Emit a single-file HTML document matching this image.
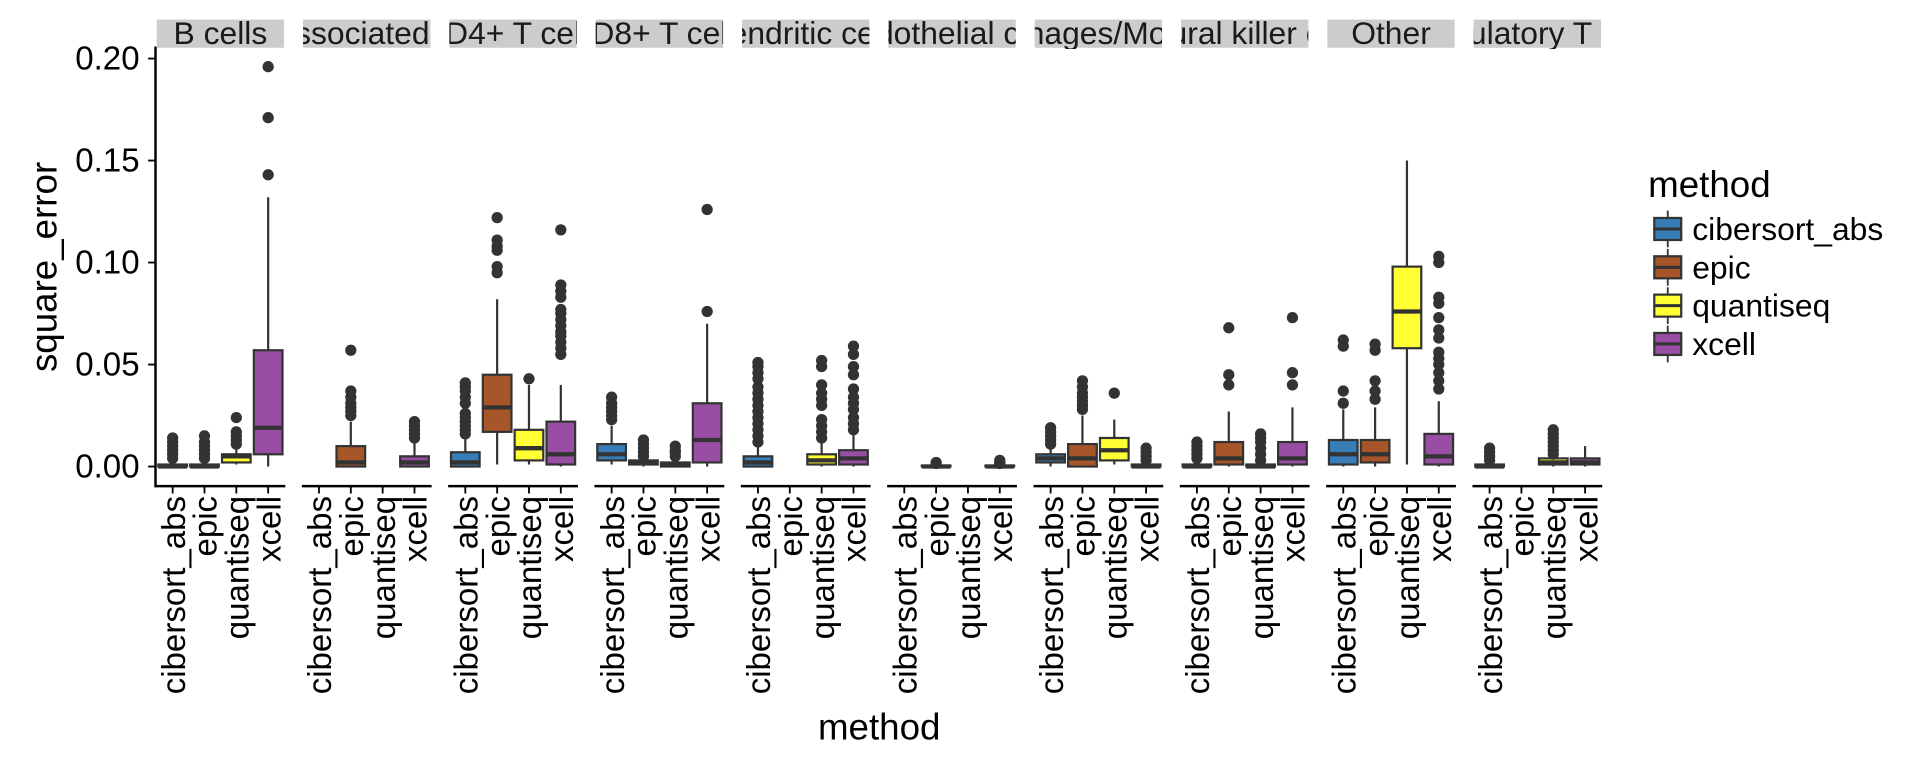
<!DOCTYPE html>
<html><head><meta charset="utf-8"><style>
html,body{margin:0;padding:0;background:#fff}
svg{display:block;font-family:"Liberation Sans",sans-serif}
</style></head><body>
<svg id="chart" width="1920" height="768" viewBox="0 0 1568 627.2" xmlns="http://www.w3.org/2000/svg">
<g id="plot"></g>
<text x="0" y="0" transform="translate(46,218) rotate(-90)" text-anchor="middle" font-size="30" fill="#000">square_error</text>
<text x="718" y="604" text-anchor="middle" font-size="30" fill="#000">method</text>
<g id="legend">
<text x="1346" y="161" font-size="30" fill="#000">method</text>
</g>
</svg>
<script>
const panels = ["B cells","Cancer associated fibroblast","CD4+ T cells","CD8+ T cells","Dendritic cells","Endothelial cells","Macrophages/Monocytes","Natural killer cells","Other","Regulatory T cells"];
const methods = ["cibersort_abs","epic","quantiseq","xcell"];
const colors = ["#377EB8","#A65628","#FFFF33","#984EA3"];
const yTicks = [0,0.05,0.10,0.15,0.20];
const yTickLabels = ["0.00","0.05","0.10","0.15","0.20"];
// each stat: [whiskerLow, q1, median, q3, whiskerHigh] or null
const stats = [
 [[0,0,0,0.001,0.002],[0,0,0,0.001,0.002],[0.001,0.002,0.005,0.006,0.009],[0,0.006,0.019,0.057,0.132]],
 [null,[0,0,0.002,0.010,0.022],null,[0,0,0.002,0.005,0.012]],
 [[0,0,0.002,0.007,0.014],[0.001,0.017,0.029,0.045,0.082],[0.001,0.003,0.009,0.018,0.040],[0,0.001,0.006,0.022,0.040]],
 [[0.001,0.003,0.006,0.011,0.020],[0,0.001,0.002,0.003,0.004],[0,0,0.001,0.002,0.004],[0,0.002,0.013,0.031,0.070]],
 [[0,0,0.002,0.005,0.010],null,[0,0.001,0.003,0.006,0.012],[0,0.001,0.004,0.008,0.016]],
 [null,[0,0,0,0.0005,0.001],null,[0,0,0,0.0005,0.001]],
 [[0,0.002,0.004,0.006,0.010],[0,0,0.004,0.011,0.025],[0.001,0.003,0.008,0.014,0.023],[0,0,0,0.001,0.002]],
 [[0,0,0,0.001,0.003],[0,0.001,0.004,0.012,0.027],[0,0,0,0.001,0.002],[0,0.001,0.004,0.012,0.029]],
 [[0,0.001,0.006,0.013,0.028],[0,0.002,0.006,0.013,0.029],[0.001,0.058,0.076,0.098,0.150],[0,0.001,0.005,0.016,0.032]],
 [[0,0,0,0.001,0.002],null,[0,0.001,0.002,0.004,0.005],[0,0.001,0.002,0.004,0.010]]
];
const outliers = [
 [[0.004,0.006,0.008,0.010,0.012,0.014],[0.004,0.006,0.008,0.010,0.012,0.015],[0.011,0.013,0.015,0.017,0.024],[0.143,0.171,0.196]],
 [[],[0.025,0.027,0.029,0.031,0.034,0.037,0.057],[],[0.014,0.016,0.018,0.020,0.022]],
 [[0.016,0.018,0.020,0.022,0.024,0.026,0.031,0.034,0.037,0.039,0.041],[0.095,0.098,0.106,0.108,0.111,0.122],[0.043],[0.055,0.058,0.061,0.064,0.066,0.069,0.072,0.075,0.077,0.083,0.086,0.089,0.116]],
 [[0.023,0.025,0.027,0.029,0.031,0.034],[0.005,0.007,0.009,0.011,0.013],[0.005,0.007,0.008,0.010],[0.076,0.126]],
 [[0.012,0.015,0.018,0.021,0.024,0.027,0.030,0.033,0.036,0.039,0.043,0.046,0.049,0.051],null,[0.014,0.017,0.020,0.023,0.030,0.033,0.036,0.040,0.049,0.052],[0.018,0.021,0.024,0.028,0.031,0.034,0.038,0.045,0.049,0.055,0.059]],
 [[],[0.0015,0.002],[],[0.0015,0.002,0.003]],
 [[0.011,0.013,0.015,0.017,0.019],[0.028,0.030,0.032,0.034,0.036,0.039,0.042],[0.036],[0.003,0.005,0.007,0.009]],
 [[0.004,0.006,0.008,0.010,0.012],[0.040,0.045,0.068],[0.003,0.006,0.009,0.012,0.014,0.016],[0.040,0.046,0.073]],
 [[0.031,0.037,0.059,0.062],[0.033,0.037,0.042,0.057,0.060],[],[0.038,0.042,0.046,0.050,0.053,0.056,0.063,0.067,0.073,0.080,0.083,0.100,0.103]],
 [[0.003,0.005,0.007,0.009],[],[0.006,0.008,0.010,0.012,0.014,0.016,0.018],[]]
];
const NS="http://www.w3.org/2000/svg";
const plot=document.getElementById('plot');
const legend=document.getElementById('legend');
function mk(tag,attrs,parent){const e=document.createElementNS(NS,tag);for(const k in attrs)e.setAttribute(k,attrs[k]);(parent||plot).appendChild(e);return e;}
const Y0=381, PX_PER=83.3/0.05;
function yScale(v){return Y0-v*PX_PER;}
const panelLeft0=128, panelStep=119.5, panelW=104, band=panelW/4;
function xScale(p,m){return panelLeft0+p*panelStep+band*(m+0.5);}
const axisTop=38, axisBottom=397;
const defs=mk('defs',{});
const yAxis=mk('g',{});


mk('line',{x1:127,y1:axisTop,x2:127,y2:axisBottom+1,stroke:'#000','stroke-width':2},yAxis);
yTicks.forEach((v,i)=>{
  mk('line',{x1:121,x2:127,y1:yScale(v),y2:yScale(v),stroke:'#000','stroke-width':1.5},yAxis);
  const t=mk('text',{x:114,y:yScale(v)+9,'text-anchor':'end','font-size':27,fill:'#000'},yAxis);
  
  
  t.textContent=yTickLabels[i];
});
panels.forEach((name,p)=>{
  const L=panelLeft0+p*panelStep;
  const g=mk('g',{});
  
  
  const cp=mk('clipPath',{id:'clip'+p},defs);
  mk('rect',{x:L,y:14,width:panelW,height:26},cp);
  const strip=mk('rect',{x:L,y:16,width:panelW,height:23,fill:'#cccccc'},g);
  
  
  const st=mk('text',{x:L+panelW/2,y:36,'text-anchor':'middle','font-size':26,fill:'#1a1a1a','clip-path':'url(#clip'+p+')'},g);
  
  
  st.textContent=name;
  mk('line',{x1:L-1,x2:L+panelW+1,y1:axisBottom,y2:axisBottom,stroke:'#000','stroke-width':2},g);
  methods.forEach((m,j)=>{
    const cx=xScale(p,j);
    mk('line',{x1:cx,x2:cx,y1:axisBottom,y2:axisBottom+6,stroke:'#000','stroke-width':1.5},g);
    const tl=mk('text',{x:0,y:0,transform:`translate(${cx+10},${axisBottom+8}) rotate(-90)`,'text-anchor':'end','font-size':27,fill:'#000'},g);
    
    
    tl.textContent=m;
    const s=stats[p][j];
    if(s){
      const bg=mk('g',{},g);
      
      
      const bw=band*0.9;
      mk('line',{x1:cx,x2:cx,y1:yScale(s[0]),y2:yScale(s[1]),stroke:'#333','stroke-width':1.8},bg);
      mk('line',{x1:cx,x2:cx,y1:yScale(s[3]),y2:yScale(s[4]),stroke:'#333','stroke-width':1.8},bg);
      mk('rect',{x:cx-bw/2,y:yScale(s[3]),width:bw,height:Math.max(0.5,yScale(s[1])-yScale(s[3])),fill:colors[j],stroke:'#333','stroke-width':1.8},bg);
      mk('line',{x1:cx-bw/2,x2:cx+bw/2,y1:yScale(s[2]),y2:yScale(s[2]),stroke:'#333','stroke-width':3.5},bg);
    }
    const o=outliers[p][j]||[];
    o.forEach(v=>{
      const c=mk('circle',{cx:cx,cy:yScale(v),r:4.6,fill:'#333'},g);
      
      
    });
  });
});
methods.forEach((m,j)=>{
  const cy=187+j*31.3;
  const g=mk('g',{},legend);
  
  
  mk('line',{x1:1362,x2:1362,y1:cy-15,y2:cy+15,stroke:'#333','stroke-width':1.5},g);
  mk('rect',{x:1351,y:cy-9,width:22,height:18,fill:colors[j],stroke:'#333','stroke-width':1.8},g);
  mk('line',{x1:1351,x2:1373,y1:cy,y2:cy,stroke:'#333','stroke-width':2.5},g);
  const t=mk('text',{x:1382,y:cy+9,'font-size':26,fill:'#000'},g);
  t.textContent=m;
});
</script>
</body></html>
